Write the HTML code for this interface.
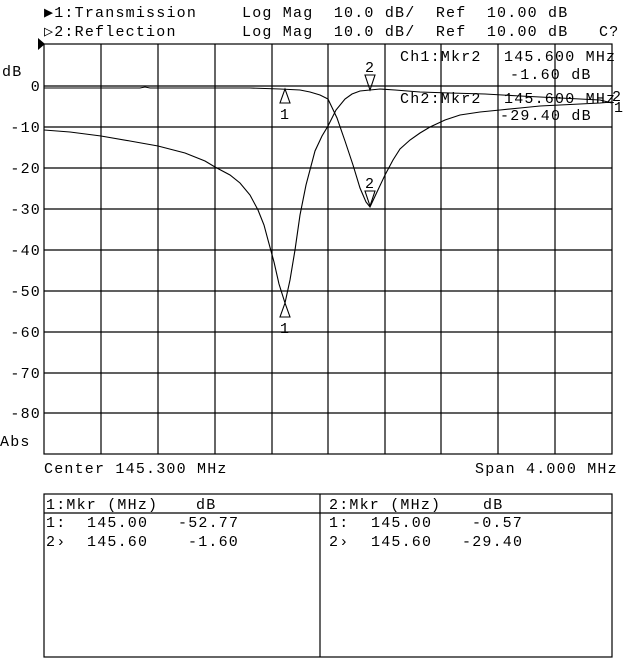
<!DOCTYPE html>
<html><head><meta charset="utf-8"><style>
html,body{margin:0;padding:0;background:#fff;}
svg{display:block}
text{font-family:"Liberation Mono",monospace;font-size:15px;fill:#000;letter-spacing:1.2px}
</style></head><body>
<svg width="640" height="659" viewBox="0 0 640 659" xmlns="http://www.w3.org/2000/svg">
<g stroke="#000" stroke-width="1.2" fill="none">
<rect x="44" y="44" width="568" height="410"/>
<path d="M101 44V454M158 44V454M215 44V454M272 44V454M328 44V454M385 44V454M441 44V454M498 44V454M555 44V454"/>
<path d="M44 86H612M44 127H612M44 168H612M44 209H612M44 250H612M44 291H612M44 332H612M44 373H612M44 413H612"/>
<rect x="44" y="494" width="568" height="163"/>
<path d="M44 513H612M320 494V657"/>
</g>
<path d="M38 38L45 44L38 50Z" fill="#000"/>
<polyline fill="none" stroke="#000" stroke-width="1.1" points="44,88 140,88 145,87 150,88 160,88 250,88 280,89 300,90 310,92 320,95 328,99 337,118 345,141 353,165 360,188 366,202 370,207 377,192 385,175 393,160 400,149 410,140 420,133 430,127 445,120 460,115 480,112 500,110 520,108 540,106 560,105 580,104 600,103 612,102"/>
<polyline fill="none" stroke="#000" stroke-width="1.1" points="44,130 70,132 101,136 130,141 158,146 185,153 205,161 215,167 230,175 240,183 250,195 258,210 264,225 268,240 274,262 279,284 285,303 290,280 295,250 300,215 306,185 315,151 322,136 328,126 336,110 345,99 352,94 360,91 370,90 380,89 395,90 420,92 450,93 485,94 520,96 560,98 600,100 612,103"/>
<g fill="none" stroke="#000" stroke-width="1.1">
<path d="M285 89L280 103H290Z"/>
<path d="M285 303L280 317H290Z"/>
<path d="M370 90L365 75H375Z"/>
<path d="M370 206L365 191H375Z"/>
</g>
<text x="280" y="119">1</text>
<text x="280" y="333">1</text>
<text x="365" y="72">2</text>
<text x="365" y="188">2</text>
<text x="612" y="101">2</text>
<text x="614" y="112" font-size="13">1</text>
<text x="44" y="17">▶1:Transmission</text>
<text x="44" y="36">▷2:Reflection</text>
<text x="242" y="17" xml:space="preserve">Log Mag  10.0 dB/  Ref  10.00 dB</text>
<text x="242" y="36" xml:space="preserve">Log Mag  10.0 dB/  Ref  10.00 dB   C?</text>
<text x="2" y="76">dB</text>
<g text-anchor="end">
<text x="41" y="91">0</text>
<text x="41" y="132">-10</text>
<text x="41" y="173">-20</text>
<text x="41" y="214">-30</text>
<text x="41" y="255">-40</text>
<text x="41" y="296">-50</text>
<text x="41" y="337">-60</text>
<text x="41" y="378">-70</text>
<text x="41" y="418">-80</text>
</g>
<text x="0" y="446">Abs</text>
<text x="400" y="61">Ch1:Mkr2</text>
<text x="504" y="61">145.600 MHz</text>
<text x="510" y="79">-1.60 dB</text>
<text x="400" y="103">Ch2:Mkr2</text>
<text x="504" y="103">145.600 MHz</text>
<text x="500" y="120">-29.40 dB</text>
<text x="44" y="473">Center 145.300 MHz</text>
<text x="475" y="473">Span 4.000 MHz</text>
<text x="46" y="509">1:Mkr (MHz)</text><text x="196" y="509">dB</text>
<text x="46" y="527">1:</text><text x="87" y="527">145.00</text><text x="178" y="527">-52.77</text>
<text x="46" y="546">2›</text><text x="87" y="546">145.60</text><text x="188" y="546">-1.60</text>
<text x="329" y="509">2:Mkr (MHz)</text><text x="483" y="509">dB</text>
<text x="329" y="527">1:</text><text x="371" y="527">145.00</text><text x="472" y="527">-0.57</text>
<text x="329" y="546">2›</text><text x="371" y="546">145.60</text><text x="462" y="546">-29.40</text>
</svg>
</body></html>
